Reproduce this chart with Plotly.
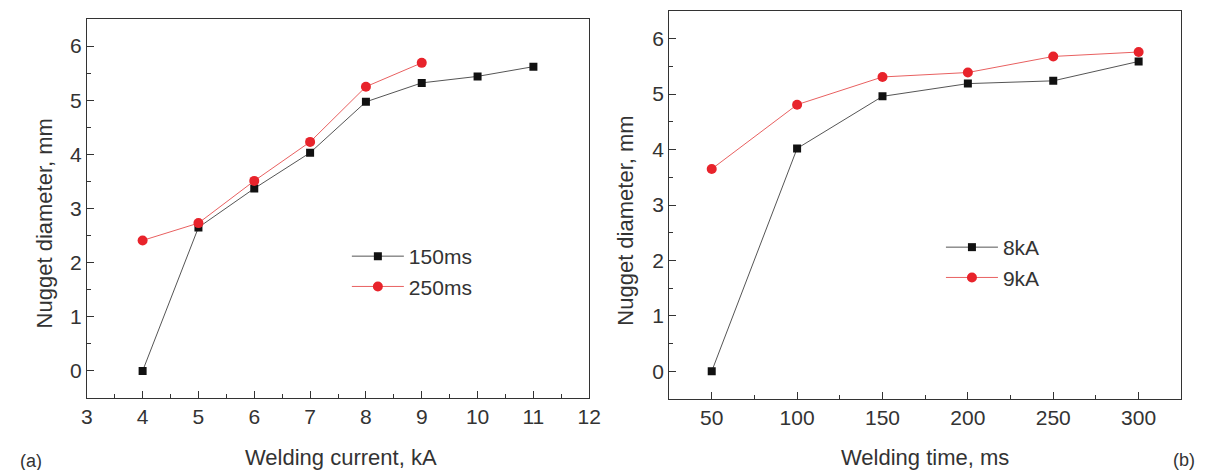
import plotly.graph_objects as go

# (a) nugget diameter vs welding current
current_ka = [4, 5, 6, 7, 8, 9, 10, 11]
d_150ms = [0.0, 2.65, 3.37, 4.03, 4.97, 5.32, 5.44, 5.62]
current_ka_250 = [4, 5, 6, 7, 8, 9]
d_250ms = [2.41, 2.73, 3.51, 4.23, 5.25, 5.69]

# (b) nugget diameter vs welding time
time_ms = [50, 100, 150, 200, 250, 300]
d_8ka = [0.0, 4.02, 4.96, 5.19, 5.24, 5.59]
d_9ka = [3.65, 4.81, 5.31, 5.39, 5.68, 5.76]

W, H = 1215, 470
FONT = "Liberation Sans, Arial, sans-serif"
AX = "#333333"
BLACK_LINE = "#555555"
RED_LINE = "#e86060"
RED = "#e8232b"


def px_x(p):
    return p / W


def px_y(p):
    return (H - p) / H


fig = go.Figure()

sq = dict(symbol="square", size=8, color="#111111")
ci = dict(symbol="circle", size=10, color=RED)

fig.add_trace(go.Scatter(x=current_ka, y=d_150ms, name="150ms", mode="lines+markers",
                         line=dict(color=BLACK_LINE, width=1), marker=sq,
                         xaxis="x", yaxis="y", legend="legend"))
fig.add_trace(go.Scatter(x=current_ka_250, y=d_250ms, name="250ms", mode="lines+markers",
                         line=dict(color=RED_LINE, width=1), marker=ci,
                         xaxis="x", yaxis="y", legend="legend"))
fig.add_trace(go.Scatter(x=time_ms, y=d_8ka, name="8kA", mode="lines+markers",
                         line=dict(color=BLACK_LINE, width=1), marker=sq,
                         xaxis="x2", yaxis="y2", legend="legend2"))
fig.add_trace(go.Scatter(x=time_ms, y=d_9ka, name="9kA", mode="lines+markers",
                         line=dict(color=RED_LINE, width=1), marker=ci,
                         xaxis="x2", yaxis="y2", legend="legend2"))

tickfont = dict(family=FONT, size=21, color=AX)
common = dict(showline=True, linecolor=AX, linewidth=1, mirror=True,
              ticks="inside", ticklen=7, tickcolor=AX, tickfont=tickfont,
              showgrid=False, zeroline=False)
ycommon = dict(common, range=[-0.5, 6.5], tickmode="linear", tick0=0, dtick=1,
               minor=dict(ticks="inside", ticklen=4, dtick=0.5, tickcolor=AX))

legend_font = dict(family=FONT, size=21, color=AX)

fig.update_layout(
    width=W, height=H,
    margin=dict(l=0, r=0, t=0, b=0),
    paper_bgcolor="white", plot_bgcolor="rgba(0,0,0,0)",
    font=dict(family=FONT, color=AX),
    xaxis=dict(common, domain=[px_x(82), px_x(592)], range=[3, 12],
               tickmode="linear", tick0=3, dtick=1,
               minor=dict(ticks="inside", ticklen=4, dtick=0.5, tickcolor=AX),
               anchor="y"),
    yaxis=dict(ycommon, domain=[px_y(398), px_y(19)], anchor="x"),
    xaxis2=dict(common, domain=[px_x(673), px_x(1193)], range=[25, 325],
                tickmode="linear", tick0=50, dtick=50,
                minor=dict(ticks="inside", ticklen=4, dtick=25, tickcolor=AX),
                anchor="y2"),
    yaxis2=dict(ycommon, domain=[px_y(399), px_y(11)], anchor="x2"),
    legend=dict(x=px_x(346), y=px_y(236), xanchor="left", yanchor="top",
                bgcolor="rgba(0,0,0,0)", font=legend_font, itemwidth=52),
    legend2=dict(x=px_x(949), y=px_y(227), xanchor="left", yanchor="top",
                 bgcolor="rgba(0,0,0,0)", font=legend_font, itemwidth=52),
    showlegend=True,
)

title_font = dict(family=FONT, size=22, color=AX)
annotations = [
    dict(text="Welding current, kA", x=px_x(340), y=px_y(457), font=title_font),
    dict(text="Welding time, ms", x=px_x(933), y=px_y(457), font=title_font),
    dict(text="Nugget diameter, mm", x=px_x(40), y=px_y(223), textangle=-90, font=title_font),
    dict(text="Nugget diameter, mm", x=px_x(629), y=px_y(221), textangle=-90, font=title_font),
    dict(text="(a)", x=px_x(25), y=px_y(461), font=dict(family=FONT, size=18, color=AX)),
    dict(text="(b)", x=px_x(1196), y=px_y(460), font=dict(family=FONT, size=18, color=AX)),
]
for a in annotations:
    a.update(xref="paper", yref="paper", showarrow=False, xanchor="center", yanchor="middle")
fig.update_layout(annotations=annotations)

fig.write_html("out.html")
